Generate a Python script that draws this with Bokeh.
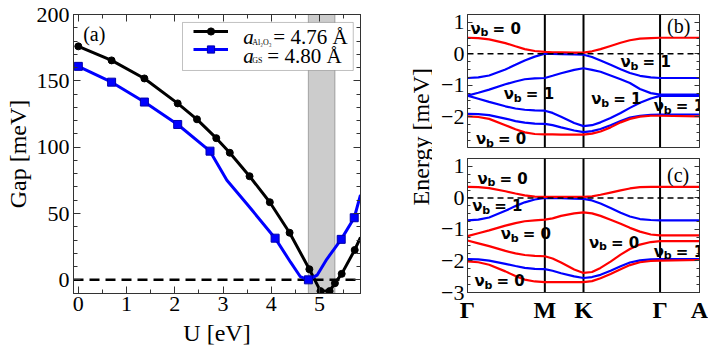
from bokeh.plotting import figure
from bokeh.models import (Range1d, LinearAxis, BoxAnnotation, Span, Label, Legend,
                          LegendItem, SingleIntervalTicker, FixedTicker, CustomJSTickFormatter)
from bokeh.layouts import row, column
from bokeh.embed import file_html
from bokeh.resources import INLINE

# ---------------- data: panel (a) ----------------
black_u = [0, 0.69, 1.37, 2.06, 2.46, 2.86, 3.14, 3.55, 3.97, 4.38, 4.79, 5.02, 5.21, 5.32, 5.46, 5.73]
black_gap = [176, 165.4, 151.8, 133, 121, 106.8, 95.8, 78.1, 58.5, 35.5, 8, -8.5, -8.5, -2.5, 4.5, 22.5]
black_end_u = [5.85]
black_end_gap = [32]

blue_u = [0, 0.69, 1.37, 2.06, 2.73, 4.08, 4.77, 5.45, 5.72]
blue_gap = [160.9, 149, 134, 117.1, 97, 31.4, 0, 30.5, 46.8]
blue_curve_u = [0, 0.69, 1.37, 2.06, 2.73, 3.08, 3.5, 4.08, 4.4, 4.6, 4.77, 4.95, 5.15, 5.45, 5.72, 5.85]
blue_curve_gap = [160.9, 149, 134, 117.1, 97, 75, 57, 31.4, 13.3, 2.5, 0, 3.5, 15.5, 30.5, 46.8, 64]

band_u = [4.77, 5.32]

legend_a = ["Al\u2082O\u2083", "GS"]
legend_val = ["= 4.76 \u00c5", "= 4.80 \u00c5"]

# ---------------- data: panels (b), (c) ----------------
k_path = [0, 0.14, 0.28, 0.49, 0.62, 0.74, 0.87, 1.0, 1.1, 1.21, 1.38, 1.5,
          1.61, 1.72, 1.85, 1.98, 2.1, 2.23, 2.37, 2.49, 3.0]
sym_k = [0, 1, 1.5, 2.49, 3]
sym_labels = ["\u0393", "M", "K", "\u0393", "A"]

b_red1 = [0.51, 0.50, 0.46, 0.34, 0.24, 0.15, 0.09, 0.06, 0.05, 0.05, 0.04, 0.04,
          0.08, 0.15, 0.25, 0.35, 0.43, 0.48, 0.50, 0.51, 0.51]
b_blue1 = [-0.77, -0.75, -0.69, -0.50, -0.35, -0.21, -0.09, 0.0, -0.005, -0.01, -0.02, -0.03,
           -0.10, -0.21, -0.35, -0.49, -0.61, -0.70, -0.75, -0.77, -0.77]
b_blue2 = [-1.33, -1.24, -1.14, -0.97, -0.88, -0.81, -0.78, -0.77, -0.70, -0.62, -0.51, -0.46,
           -0.51, -0.57, -0.69, -0.81, -0.93, -1.12, -1.25, -1.30, -1.30]
b_blue3 = [-1.33, -1.43, -1.53, -1.67, -1.74, -1.78, -1.80, -1.81, -1.88, -2.00, -2.20, -2.30,
           -2.27, -2.18, -2.04, -1.88, -1.72, -1.56, -1.42, -1.34, -1.34]
b_blue4 = [-1.91, -1.92, -1.95, -2.06, -2.14, -2.19, -2.22, -2.23, -2.27, -2.34, -2.44, -2.49,
           -2.46, -2.39, -2.27, -2.14, -2.03, -1.97, -1.94, -1.93, -1.93]
b_red2 = [-1.99, -2.01, -2.07, -2.27, -2.40, -2.50, -2.55, -2.56, -2.56, -2.57, -2.57, -2.57,
          -2.54, -2.47, -2.34, -2.18, -2.07, -2.00, -1.97, -1.97, -1.99]

c_red1 = [0.35, 0.34, 0.31, 0.21, 0.14, 0.08, 0.04, 0.03, 0.03, 0.03, 0.03, 0.03,
          0.05, 0.10, 0.17, 0.24, 0.30, 0.34, 0.35, 0.35, 0.35]
c_blue1 = [-0.71, -0.69, -0.62, -0.41, -0.26, -0.14, -0.05, 0.0, -0.005, -0.01, -0.02, -0.03,
           -0.08, -0.18, -0.32, -0.47, -0.59, -0.67, -0.70, -0.71, -0.71]
c_red2 = [-1.21, -1.12, -1.03, -0.88, -0.80, -0.74, -0.71, -0.69, -0.65, -0.57, -0.49, -0.46,
          -0.49, -0.57, -0.69, -0.82, -0.95, -1.07, -1.16, -1.19, -1.19]
c_red3 = [-1.35, -1.44, -1.53, -1.68, -1.76, -1.81, -1.84, -1.85, -1.92, -2.05, -2.27, -2.38,
          -2.35, -2.22, -2.02, -1.80, -1.62, -1.48, -1.40, -1.37, -1.37]
c_blue2 = [-1.94, -1.95, -1.99, -2.09, -2.16, -2.22, -2.25, -2.26, -2.31, -2.39, -2.49, -2.54,
           -2.51, -2.44, -2.31, -2.17, -2.05, -1.98, -1.95, -1.94, -1.94]
c_red4 = [-2.01, -2.04, -2.12, -2.33, -2.48, -2.59, -2.65, -2.67, -2.67, -2.67, -2.67, -2.67,
          -2.64, -2.55, -2.41, -2.26, -2.13, -2.04, -2.00, -1.99, -1.97]

b_nu_labels = [(0.04, 0.80, "0"), (1.98, -0.27, "1"), (0.47, -1.28, "1"),
               (1.60, -1.44, "1"), (2.41, -1.67, "1"), (0.11, -2.71, "0")]
c_nu_labels = [(0.13, 0.60, "0"), (0.06, -0.26, "1"), (0.43, -1.16, "0"),
               (1.57, -1.43, "0"), (2.41, -1.70, "1"), (0.09, -2.65, "0")]

SERIF = "Liberation Serif"
SANS = "DejaVu Sans"
FRAME = "#333333"
RED = "#ff0000"
BLUE = "#0000ff"


def style_axis(ax, major_in, minor_in, labels=True, size="22px"):
    ax.major_tick_in = major_in
    ax.major_tick_out = 0
    ax.minor_tick_in = minor_in
    ax.minor_tick_out = 0
    ax.axis_line_color = FRAME
    ax.major_tick_line_color = FRAME
    ax.minor_tick_line_color = FRAME
    ax.major_label_text_font = SERIF
    ax.major_label_text_font_size = size
    ax.major_label_text_color = "black"
    ax.axis_label_text_font = SERIF
    ax.axis_label_text_font_style = "normal"
    ax.axis_label_text_font_size = "24px"
    ax.axis_label_text_color = "black"
    if not labels:
        ax.formatter = CustomJSTickFormatter(code="return ''")
        ax.major_label_text_font_size = "0px"
        ax.major_label_standoff = 0


# ---------------- panel (a) ----------------
pa = figure(width=368, height=354, output_backend="svg", toolbar_location=None,
            x_range=Range1d(-0.1, 5.85), y_range=Range1d(-10.3, 200),
            min_border_left=73, min_border_right=8, min_border_top=14, min_border_bottom=61)
pa.grid.visible = False
pa.outline_line_color = FRAME
pa.background_fill_color = "white"

pa.xaxis.ticker = SingleIntervalTicker(interval=1, num_minor_ticks=2)
pa.yaxis.ticker = SingleIntervalTicker(interval=50, num_minor_ticks=5)
style_axis(pa.xaxis[0], 7, 4)
style_axis(pa.yaxis[0], 7, 4)
pa.xaxis.major_label_standoff = 3
pa.xaxis.axis_label_standoff = 6
pa.yaxis.major_label_standoff = 4
pa.yaxis.axis_label_standoff = 3
pa.xaxis.axis_label = "U [eV]"
pa.yaxis.axis_label = "Gap [meV]"

top_ax = LinearAxis(ticker=SingleIntervalTicker(interval=1, num_minor_ticks=2))
style_axis(top_ax, 7, 4, labels=False)
pa.add_layout(top_ax, "above")
right_ax = LinearAxis(ticker=SingleIntervalTicker(interval=50, num_minor_ticks=5))
style_axis(right_ax, 7, 4, labels=False)
pa.add_layout(right_ax, "right")

pa.add_layout(BoxAnnotation(left=band_u[0], right=band_u[1], fill_color="#cccccc", fill_alpha=1.0,
                            line_color=FRAME, line_width=1.2, level="underlay"))
pa.add_layout(Span(location=0, dimension="width", line_color="black", line_dash="10 6",
                   line_width=2.5, level="underlay"))
# legend frame (opaque white box behind the legend entries)
pa.add_layout(BoxAnnotation(left=2.16, right=5.70, bottom=157.8, top=194.0, fill_color="white",
                            fill_alpha=1.0, line_color=FRAME, line_width=1, level="underlay"))

bl = pa.line(black_u + black_end_u, black_gap + black_end_gap, line_color="black", line_width=3)
bs = pa.scatter(black_u, black_gap, marker="circle", size=7, fill_color="black", line_color="black")
ul = pa.line(blue_curve_u, blue_curve_gap, line_color=BLUE, line_width=3)
us = pa.scatter(blue_u, blue_gap, marker="square", size=8, fill_color=BLUE, line_color="#0000aa")

legend = Legend(items=[LegendItem(label=" ", renderers=[bl, bs]),
                       LegendItem(label=" ", renderers=[ul, us])],
                location="top_right", margin=8, padding=6, spacing=0,
                glyph_width=35, glyph_height=18, label_height=18, label_width=116,
                label_standoff=8, label_text_font_size="10px",
                border_line_color=None, background_fill_alpha=0.0)
pa.add_layout(legend)

leg_x = 3.42
leg_rows = [182.7, 169.0]
val_offsets = [30, 24]
for i in range(2):
    pa.add_layout(Label(x=leg_x, y=leg_rows[i], text="a", text_font=SERIF, text_font_style="italic",
                        text_font_size="21px", text_baseline="middle", text_color="black"))
    pa.add_layout(Label(x=leg_x, y=leg_rows[i], x_offset=9, y_offset=-5, text=legend_a[i],
                        text_font=SERIF, text_font_size="8px", text_baseline="middle",
                        text_color="black"))
    pa.add_layout(Label(x=leg_x, y=leg_rows[i], x_offset=val_offsets[i], text=legend_val[i],
                        text_font=SERIF, text_font_size="21px", text_baseline="middle",
                        text_color="black"))

pa.add_layout(Label(x=0.1, y=185, text="(a)", text_font=SERIF, text_font_size="20px",
                    text_baseline="middle", text_color="black"))

# ---------------- shared energy label ----------------
pl = figure(width=64, height=354, output_backend="svg", toolbar_location=None,
            x_range=Range1d(0, 1), y_range=Range1d(0, 1), x_axis_type=None, y_axis_type=None,
            min_border=0, outline_line_color=None)
pl.grid.visible = False
pl.add_layout(Label(x=52 / 64, y=1 - 155 / 354, text="Energy [meV]", angle=90, angle_units="deg",
                    text_align="center", text_baseline="middle", text_font=SERIF,
                    text_font_size="24px", text_color="black"))


# ---------------- panels (b), (c) ----------------
def band_fig(height, top, bottom, ymin, show_x):
    p = figure(width=276, height=height, output_backend="svg", toolbar_location=None,
               x_range=Range1d(0, 3.0), y_range=Range1d(ymin, 1.25),
               min_border_left=35, min_border_right=9, min_border_top=top, min_border_bottom=bottom)
    p.grid.visible = False
    p.outline_line_color = FRAME
    p.yaxis.ticker = SingleIntervalTicker(interval=1, num_minor_ticks=4)
    style_axis(p.yaxis[0], 5, 3)
    p.yaxis.major_label_standoff = 3
    p.yaxis.major_label_overrides = {-1: "\u22121", -2: "\u22122", -3: "\u22123"}
    rax = LinearAxis(ticker=SingleIntervalTicker(interval=1, num_minor_ticks=4))
    style_axis(rax, 5, 3, labels=False)
    p.add_layout(rax, "right")
    if show_x:
        p.xaxis.ticker = FixedTicker(ticks=sym_k)
        p.xaxis.major_label_overrides = {k: s for k, s in zip(sym_k, sym_labels)}
        style_axis(p.xaxis[0], 0, 0, size="24px")
        p.xaxis.major_label_text_font_style = "bold"
        p.xaxis.major_label_standoff = 4
        p.xaxis.minor_tick_line_color = None
    else:
        p.xaxis.visible = False
    for k in sym_k[1:4]:
        p.add_layout(Span(location=k, dimension="height", line_color="black", line_width=2,
                          level="underlay"))
    return p


def nu_labels(p, items):
    for kx, ey, v in items:
        p.add_layout(Label(x=kx, y=ey, text="\u03bd", text_font=SANS, text_font_style="bold",
                           text_font_size="15px", text_baseline="middle", text_color="black"))
        p.add_layout(Label(x=kx, y=ey, x_offset=10, y_offset=-4, text="b", text_font=SANS,
                           text_font_style="bold", text_font_size="11px", text_baseline="middle",
                           text_color="black"))
        p.add_layout(Label(x=kx, y=ey, x_offset=22, text="= " + v, text_font=SANS,
                           text_font_style="bold", text_font_size="15px", text_baseline="middle",
                           text_color="black"))


pb = band_fig(152, 14, 5, -2.98, False)
for band, col in [(b_blue1, BLUE), (b_blue2, BLUE), (b_blue3, BLUE), (b_blue4, BLUE),
                  (b_red1, RED), (b_red2, RED)]:
    pb.line(k_path, band, line_color=col, line_width=2.2)
pb.add_layout(Span(location=0, dimension="width", line_color="black", line_dash="6 4", line_width=1.5))
nu_labels(pb, b_nu_labels)
pb.add_layout(Label(x=2.58, y=0.90, text="(b)", text_font=SERIF, text_font_size="20px",
                    text_baseline="middle", text_color="black"))

pc = band_fig(202, 6, 62, -3.0, True)
for band, col in [(c_blue1, BLUE), (c_blue2, BLUE), (c_red1, RED), (c_red2, RED),
                  (c_red3, RED), (c_red4, RED)]:
    pc.line(k_path, band, line_color=col, line_width=2.2)
pc.add_layout(Span(location=0, dimension="width", line_color="black", line_dash="6 4", line_width=1.5))
nu_labels(pc, c_nu_labels)
pc.add_layout(Label(x=2.58, y=0.74, text="(c)", text_font=SERIF, text_font_size="20px",
                    text_baseline="middle", text_color="black"))

layout = row(pa, pl, column(pb, pc))
open("out.html", "w").write(file_html(layout, INLINE))
